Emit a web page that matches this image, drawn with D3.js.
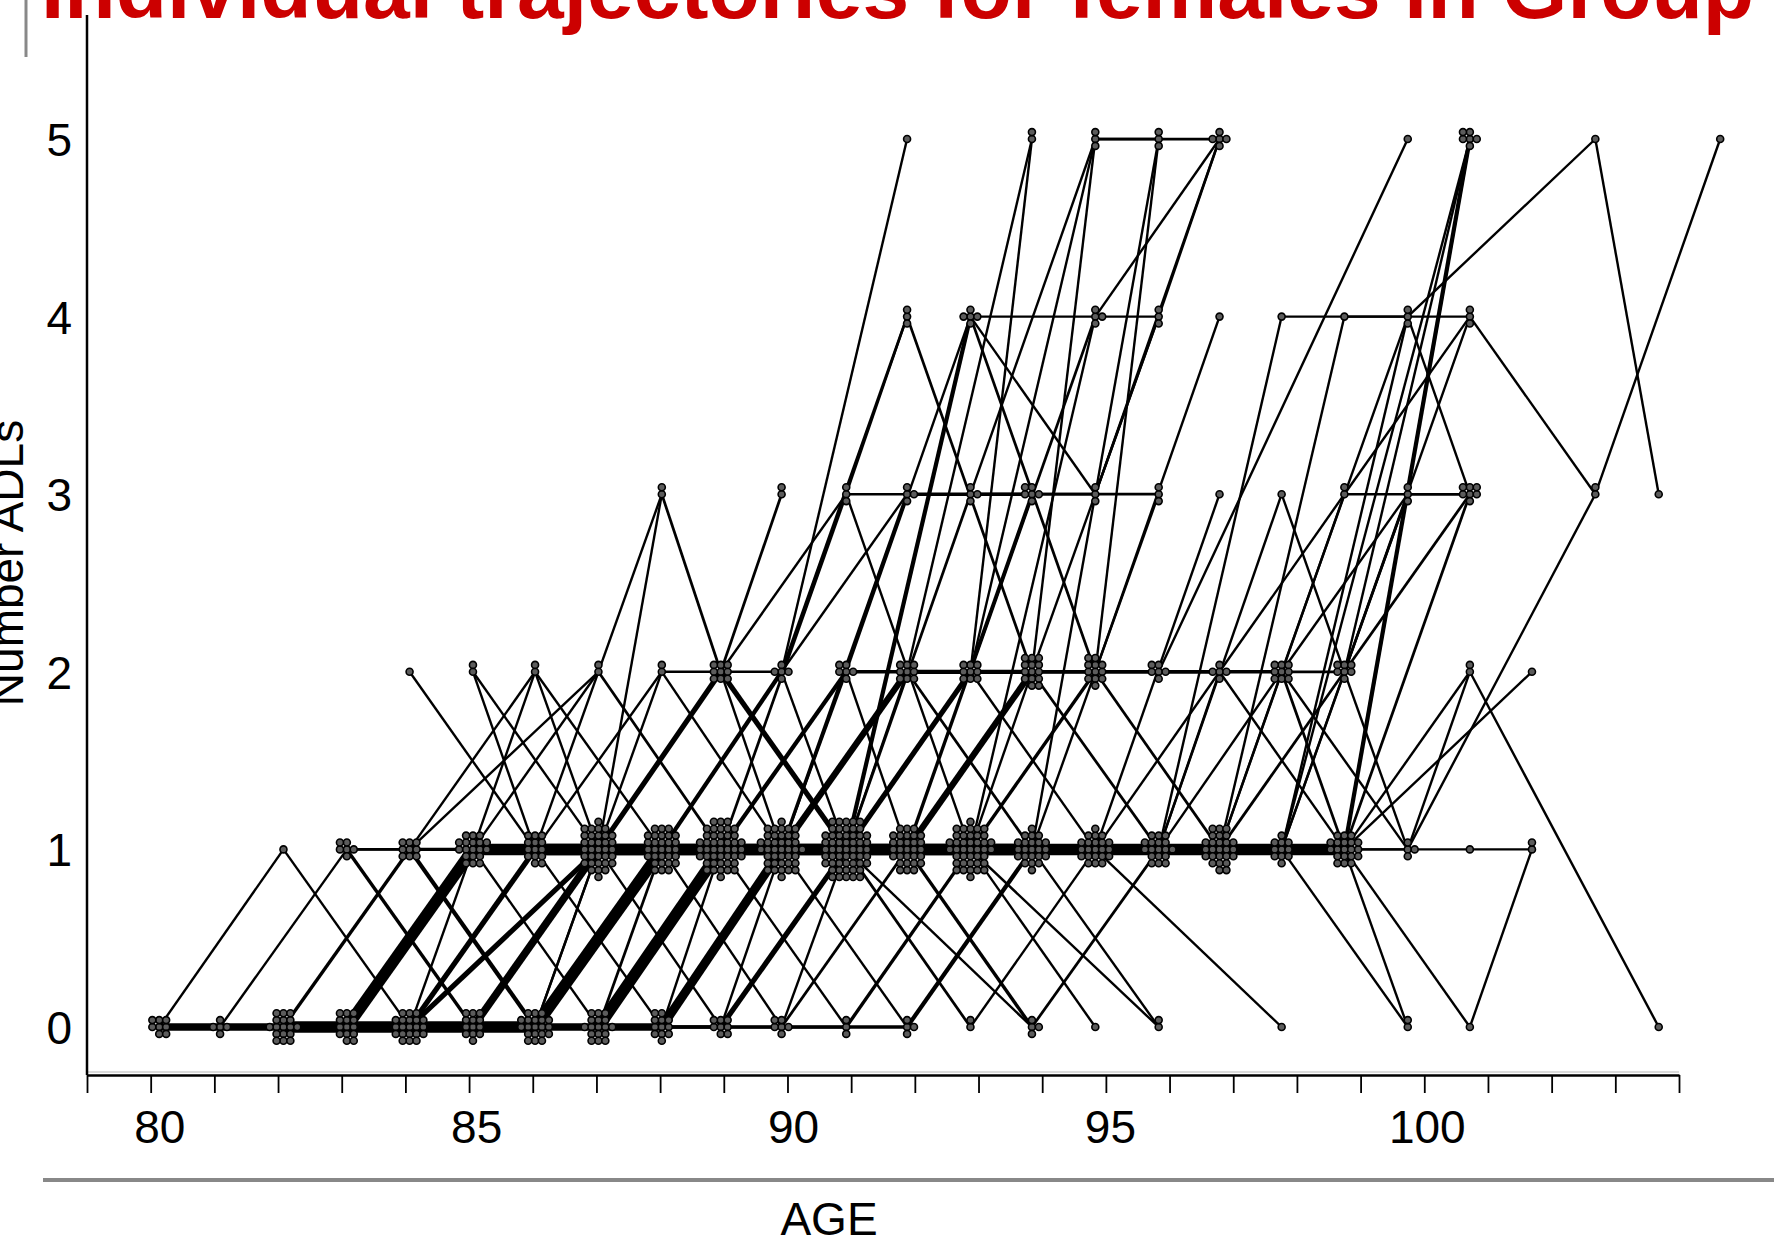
<!DOCTYPE html>
<html lang="en">
<head>
<meta charset="UTF-8">
<script src="https://d3js.org/d3.v7.min.js"></script>
<style>
  body { margin: 0; background: #fff; }
  svg { display: block; font-family: "Liberation Sans", Arial, sans-serif; }
  .axis path, .axis line { stroke: #000; }
  .axis text { font-size: 46px; fill: #000; }
</style>
</head>
<body>
<div id="chart"></div>
<script>
const width = 1774, height = 1241;

// interview ages: nominal label -> where the wave actually sits on the age axis
const waveAges    = [80, 81, 82, 83, 84, 85, 86, 87, 88, 89, 90, 91, 92, 93, 94, 95, 96, 97, 98, 99, 100, 101, 102, 103, 104, 105];
const plottedAges = [80.0, 80.96, 81.96, 82.96, 83.95, 84.95, 85.93, 86.93, 87.93, 88.86, 89.82, 90.84, 91.8, 92.8,
                     93.77, 94.77, 95.77, 96.73, 97.71, 98.7, 99.7, 100.68, 101.66, 102.66, 103.66, 104.63];

const ageLabels = [80, 85, 90, 95, 100];
const adlLabels = [0, 1, 2, 3, 4, 5];

// each entry: "age:ADLs" observations of one path, number of women following it
const trajectories = [
  ["80:0 82:0 84:0 86:0 88:0 90:1 92:1 94:1", 2],
  ["80:0 82:0 84:0 86:1 88:1 90:1 92:2", 1],
  ["80:0 82:1 84:0 86:0 88:0 90:1", 1],
  ["80:0 82:0 84:0 86:0 88:0 90:0 92:0 94:1", 1],
  ["80:0 82:0 84:1 86:0 88:1 90:1", 1],
  ["80:0 82:0 84:0 87:1 89:1 91:1", 1],
  ["80:0 82:0 84:0 86:0 88:1 90:2 92:4 94:2", 1],
  ["81:0 83:1 85:1 87:1 89:1 91:1", 1],
  ["81:0 83:0 85:0 87:1 89:1 91:2 93:4 95:2", 1],
  ["81:0 83:0 85:1 87:1 89:1 91:1 93:1", 2],
  ["81:0 83:0 85:0 87:0 89:1 91:1", 1],
  ["82:0 84:0 86:1 88:1 90:1 92:1 94:2", 2],
  ["82:0 84:1 86:0 88:1 90:1", 1],
  ["82:0 84:0 87:1 89:1 91:1 93:1 95:2", 2],
  ["82:0 84:0 86:1 88:1 90:1 92:3 94:3", 1],
  ["82:0 84:0 86:0 88:0 90:1 92:1 94:0", 1],
  ["82:0 84:1 86:1 88:2 90:1 92:1", 1],
  ["82:0 84:0 86:0 87:1 89:1 91:1", 1],
  ["82:0 84:0 85:1 87:1 89:2 91:1", 1],
  ["83:0 85:1 87:1 89:1 91:1 93:1", 5],
  ["83:0 85:1 87:1 89:2 91:1 93:4", 1],
  ["83:0 85:1 87:2 89:1 91:1 93:3 95:5 97:5", 1],
  ["83:0 85:1 87:1 89:1 91:3 92:4 94:2 96:2", 1],
  ["83:0 85:1 86:2 88:1 90:1", 1],
  ["83:1 85:0 87:0 89:1 91:1 93:1", 2],
  ["83:1 85:1 87:1 89:1 91:1", 1],
  ["83:1 84:1 86:1 88:1 90:1 92:1 94:1", 1],
  ["83:1 85:0 87:1 89:1 91:1 93:0", 1],
  ["83:0 85:0 87:0 89:0 91:1 93:1", 1],
  ["84:0 87:1 89:1 91:1 93:1", 2],
  ["84:0 86:0 88:1 90:1 92:1 94:3", 2],
  ["84:0 86:1 88:1 90:1 92:1", 1],
  ["84:1 86:0 88:1 90:1 92:3 94:3 96:3", 1],
  ["84:1 86:1 88:1 90:1 92:1 94:1 96:1", 1],
  ["84:1 86:0 88:1 90:1 92:1 94:1 96:1", 1],
  ["84:1 87:2 89:1 91:1 93:1", 1],
  ["84:1 86:2 87:1 89:1 91:1", 1],
  ["84:0 86:0 88:0 90:0 92:1 94:1", 1],
  ["84:2 86:1 88:1 90:1", 1],
  ["85:0 87:1 89:1 91:1 93:1 95:1 97:1", 4],
  ["85:0 87:1 89:1 91:2 93:2 95:4", 1],
  ["85:0 87:0 89:1 91:1 93:1 95:1", 1],
  ["85:1 87:1 89:1 91:1 93:2 95:2", 2],
  ["85:1 87:1 89:2 91:3 93:1 95:1", 1],
  ["85:1 87:1 89:2 90:3", 1],
  ["85:2 87:1 89:1 91:1", 1],
  ["85:2 86:1 88:1 90:1 92:2", 1],
  ["85:0 86:0 88:1 90:1 92:1 94:1", 1],
  ["85:1 87:0 89:0 91:1 93:1", 1],
  ["86:0 88:1 90:1 92:1 94:1 96:1 98:1", 2],
  ["86:0 88:1 90:1 92:2 94:2 96:2", 1],
  ["86:0 88:0 90:1 92:1 94:1", 1],
  ["86:1 88:3 89:2 91:1 93:4 95:4 97:5", 1],
  ["86:1 88:1 90:1 92:1 94:0 96:1", 1],
  ["86:1 88:1 90:1 92:2 94:2", 1],
  ["86:1 88:0 90:1 92:1 94:2", 1],
  ["86:0 88:2 90:2 92:4", 1],
  ["87:0 89:1 91:1 93:1 95:1 97:1 99:1", 5],
  ["87:0 89:1 91:1 93:3 95:3 96:4", 1],
  ["87:0 89:1 91:2 93:2 95:2 97:2", 1],
  ["87:0 88:1 90:1 92:1 94:1", 2],
  ["87:0 88:0 90:1 92:1 94:1", 1],
  ["87:1 88:3 89:2 90:3", 1],
  ["87:1 89:0 91:0 93:1 95:1 97:2", 1],
  ["87:1 89:2 91:1 93:1 95:1", 1],
  ["87:0 89:0 91:1 93:1 95:1", 1],
  ["88:0 90:1 92:1 94:1 96:1 98:1", 1],
  ["88:0 89:1 91:1 93:4 95:2 97:2", 1],
  ["88:0 90:0 92:0 94:1 96:1 98:1 99:1", 1],
  ["88:1 90:2 92:3 94:3 96:3", 1],
  ["88:1 90:1 92:2 94:2 96:2 98:2", 1],
  ["88:1 90:2 92:5", 1],
  ["88:1 90:2 91:1 93:2 95:1", 1],
  ["89:0 91:1 93:1 95:1 97:1 99:1", 2],
  ["89:0 90:1 92:1 94:1 96:1", 1],
  ["89:0 91:0 93:1 95:1 97:1", 1],
  ["89:2 90:1 92:3 93:3", 1],
  ["89:2 91:1 93:2 94:2 96:1", 1],
  ["89:1 91:2 92:1 94:2 96:1", 1],
  ["89:1 91:3 93:3 95:3", 1],
  ["89:1 91:1 93:4 95:3 97:5", 1],
  ["90:0 91:1 93:1 95:1 97:1 99:1", 1],
  ["90:0 92:0 94:1 96:1 98:1", 1],
  ["90:1 91:2 92:2 94:1", 1],
  ["90:1 92:2 94:5", 1],
  ["91:1 93:2 94:5", 1],
  ["90:1 92:1 94:2 95:5 96:5", 1],
  ["91:1 93:1 95:4", 1],
  ["91:2 93:2 95:5 97:5", 1],
  ["91:1 92:2 94:2 95:2 97:1", 1],
  ["92:1 94:2 96:4 97:5", 1],
  ["92:2 94:1 96:3", 1],
  ["93:1 95:2 96:5", 1],
  ["93:1 94:2 95:2 97:1 98:2", 1],
  ["94:1 96:5", 1],
  ["93:2 95:4 96:4", 1],
  ["92:1 94:3", 1],
  ["95:2 97:4", 1],
  ["95:1 97:3", 1],
  ["96:1 98:3 99:2 101:3", 1],
  ["96:1 98:4 101:4 103:3", 1],
  ["97:1 99:4 100:4 103:5 104:3", 1],
  ["96:1 97:2 99:3 101:4", 1],
  ["97:1 99:3 101:3", 1],
  ["97:1 99:2 100:3 101:3", 1],
  ["98:1 99:2 100:1", 1],
  ["96:1 98:2 99:2", 1],
  ["98:1 100:3", 1],
  ["98:2 100:3", 1],
  ["98:2 100:4 101:3", 1],
  ["96:1 98:1 100:4", 1],
  ["98:2 99:1 101:5", 1],
  ["97:1 98:1 101:5", 1],
  ["97:1 99:1 101:5", 1],
  ["97:1 99:2 101:5", 1],
  ["95:2 97:2 99:1 101:5", 1],
  ["96:2 98:2 99:1 101:5", 1],
  ["96:2 100:5", 1],
  ["98:1 100:1 103:3 105:5", 1],
  ["98:2 100:1 101:2 104:0", 1],
  ["97:1 99:1 101:2", 1],
  ["97:1 99:1 102:2", 1],
  ["97:1 99:1 101:0 102:1", 1],
  ["97:1 99:1 100:1 101:1 102:1", 1],
  ["96:1 98:1 100:0", 1],
  ["97:1 99:1 100:0", 1],
  ["93:1 95:1 98:0", 1],
  ["96:2 98:2 99:2 101:4", 1],
  ["99:2 101:3", 1],
  ["99:1 101:3", 2],
  ["88:1 90:0 92:1", 1],
  ["89:1 91:0 93:1", 1],
  ["90:1 92:0 94:1", 1],
  ["91:1 93:0 95:1", 1],
  ["91:1 94:0", 1],
  ["92:1 94:0 96:1", 1],
  ["93:1 96:0", 1],
  ["93:1 95:0", 1],
  ["94:1 96:0", 1]
];

const ageOf = new Map(waveAges.map((a, i) => [a, plottedAges[i]]));

// expand to individual women
const women = [];
trajectories.forEach(([path, n]) => {
  const obs = path.split(" ").map(tok => {
    const [a, v] = tok.split(":").map(Number);
    return { key: a + ":" + v, age: ageOf.get(a), adl: v };
  });
  for (let k = 0; k < n; k++) women.push(obs);
});

const x = d3.scaleLinear().domain([78.86, 103.98]).range([87, 1679]);
const y = d3.scaleLinear().domain([0, 5]).range([1027, 139]);

const svg = d3.select("#chart").append("svg")
  .attr("width", width)
  .attr("height", height);

// title, partly outside the frame like the source
svg.append("text")
  .attr("x", 41)
  .attr("y", 18)
  .attr("fill", "#cc0000")
  .attr("font-weight", "bold")
  .attr("font-size", 84)
  .text("Individual trajectories for females in Group");

// grey frame pieces
svg.append("line")
  .attr("x1", 26).attr("x2", 26).attr("y1", 0).attr("y2", 57)
  .attr("stroke", "#888").attr("stroke-width", 3);
svg.append("line")
  .attr("x1", 43).attr("x2", width).attr("y1", 1180).attr("y2", 1180)
  .attr("stroke", "#888").attr("stroke-width", 4);

// segments, width grows with the number of women sharing them
const segCount = d3.rollup(
  women.flatMap(obs => d3.pairs(obs)),
  v => ({ n: v.length, a: v[0][0], b: v[0][1] }),
  ([p, q]) => p.key + ">" + q.key
);
const segs = Array.from(segCount.values()).sort((s, t) => s.n - t.n);
const lw = n => Math.min(11.5, 2.4 + 0.35 * Math.pow(n - 1, 1.5));

svg.append("g")
  .selectAll("line")
  .data(segs)
  .join("line")
  .attr("x1", d => x(d.a.age))
  .attr("y1", d => y(d.a.adl))
  .attr("x2", d => x(d.b.age))
  .attr("y2", d => y(d.b.adl))
  .attr("stroke", "#000")
  .attr("stroke-width", d => lw(d.n));

// point clusters: one marker per observation, packed around the node
const nodeCount = d3.rollup(women.flat(), v => ({ n: v.length, age: v[0].age, adl: v[0].adl }), d => d.key);
const step = 6.9;
const grid = [];
for (let i = -6; i <= 6; i++) for (let j = -7; j <= 7; j++) grid.push([i, j]);
grid.sort((p, q) => (p[0] * p[0] + 0.55 * p[1] * p[1]) - (q[0] * q[0] + 0.55 * q[1] * q[1])
  || Math.atan2(p[1], p[0]) - Math.atan2(q[1], q[0]));

const marks = [];
nodeCount.forEach(d => {
  for (let k = 0; k < d.n; k++) {
    marks.push({ cx: x(d.age) + grid[k][0] * step, cy: y(d.adl) + grid[k][1] * step });
  }
});

svg.append("g")
  .selectAll("circle")
  .data(marks)
  .join("circle")
  .attr("cx", d => d.cx)
  .attr("cy", d => d.cy)
  .attr("r", 3.5)
  .attr("fill", "#5c5c5c")
  .attr("stroke", "#000")
  .attr("stroke-width", 1.6);

// axes
const axisY0 = 1075;
const minorTicks = d3.range(26).map(i => x.domain()[0] + i * (x.domain()[1] - x.domain()[0]) / 25);

svg.append("line")
  .attr("x1", 87).attr("x2", 1679).attr("y1", axisY0 - 3).attr("y2", axisY0 - 3)
  .attr("stroke", "#cfcfcf").attr("stroke-width", 1.5);

svg.append("g")
  .attr("class", "axis")
  .attr("transform", `translate(0,${axisY0})`)
  .call(d3.axisBottom(x).tickValues(minorTicks).tickSizeInner(18).tickSizeOuter(0).tickFormat(""))
  .call(g => g.select(".domain").attr("stroke-width", 2.5))
  .call(g => g.selectAll(".tick line").attr("stroke-width", 1.8));

svg.append("g")
  .attr("class", "axis")
  .attr("transform", `translate(0,${axisY0})`)
  .call(d3.axisBottom(x).tickValues(ageLabels).tickSize(0).tickPadding(35).tickFormat(d3.format("d")))
  .call(g => g.select(".domain").remove());

svg.append("line")
  .attr("x1", 87).attr("x2", 87).attr("y1", 15).attr("y2", axisY0)
  .attr("stroke", "#000").attr("stroke-width", 2.5);

svg.append("g")
  .attr("class", "axis")
  .attr("transform", "translate(87,0)")
  .call(d3.axisLeft(y).tickValues(adlLabels).tickSize(0).tickPadding(15).tickFormat(d3.format("d")))
  .call(g => g.select(".domain").remove())
  .call(g => g.selectAll("text").attr("dy", "0.36em"));

// axis titles
svg.append("text")
  .attr("x", 829).attr("y", 1235)
  .attr("text-anchor", "middle")
  .attr("font-size", 46)
  .text("AGE");

svg.append("text")
  .attr("transform", "translate(23,563) rotate(-90)")
  .attr("text-anchor", "middle")
  .attr("font-size", 46)
  .text("Number ADLs");
</script>
</body>
</html>
